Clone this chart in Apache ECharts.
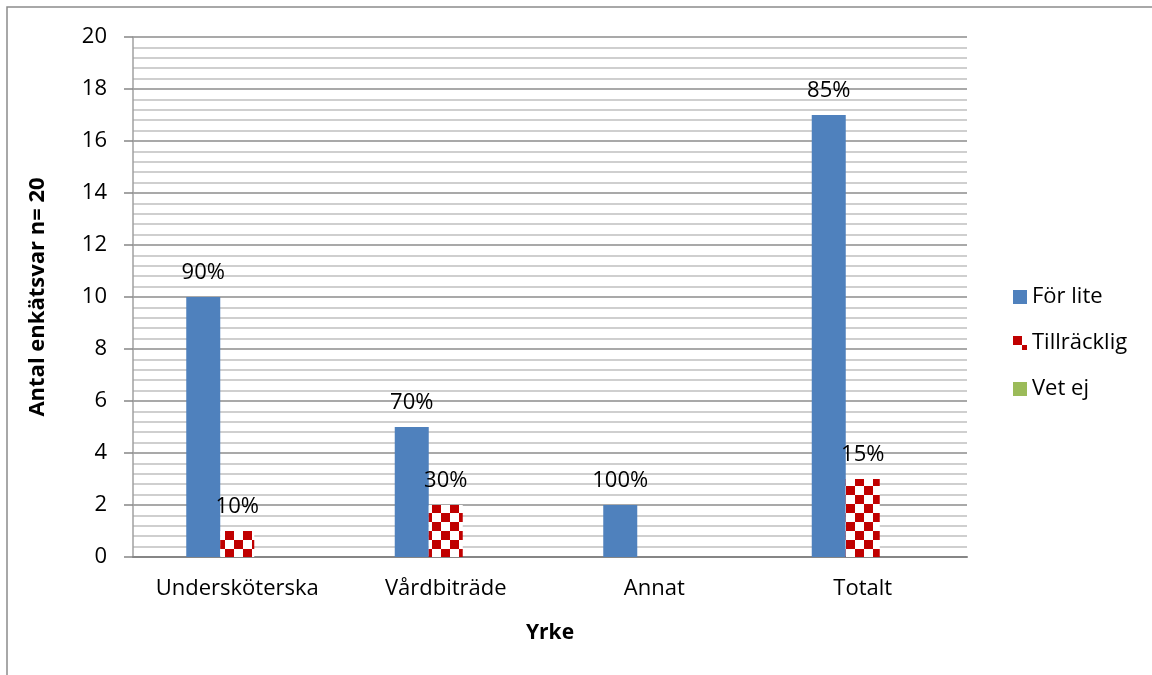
<!DOCTYPE html>
<html>
<head>
<meta charset="utf-8">
<script src="https://cdn.jsdelivr.net/npm/echarts@6/dist/echarts.min.js"></script>
<style>
  html, body { margin: 0; padding: 0; background: #fff; }
  #chart { width: 1152px; height: 675px; }
</style>
</head>
<body>
<div id="chart"></div>
<script>
// data
const categories = ['Undersköterska', 'Vårdbiträde', 'Annat', 'Totalt']
const forLite = [10, 5, 2, 17]
const tillracklig = [1, 2, 0, 3]
const vetEj = [0, 0, 0, 0]
const forLiteLabels = ['90%', '70%', '100%', '85%']
const tillrackligLabels = ['10%', '30%', '', '15%']

const FONT = '"Open Sans", Lato, sans-serif'

// red / white checkerboard fill
const makeChecker = () => {
  const cell = 9
  const c = document.createElement('canvas')
  c.width = cell * 2
  c.height = cell * 2
  const ctx = c.getContext('2d')
  ctx.fillStyle = '#ffffff'
  ctx.fillRect(0, 0, c.width, c.height)
  ctx.fillStyle = '#C00000'
  ctx.fillRect(0, 0, cell, cell)
  ctx.fillRect(cell, cell, cell, cell)
  return c
}
const checker = { image: makeChecker(), repeat: 'repeat' }

const myChart = echarts.init(document.getElementById('chart'))

const option = {
  animation: false,
  textStyle: { fontFamily: FONT },
  graphic: [
    {
      type: 'rect',
      shape: { x: 7, y: 7, width: 1170, height: 700 },
      style: { fill: 'none', stroke: '#8c8c8c', lineWidth: 1.5 },
    },
  ],
  grid: {
    left: 133,
    right: 185,
    top: 37,
    bottom: 118,
  },
  legend: {
    orient: 'vertical',
    left: 1008,
    top: 281,
    itemWidth: 14,
    itemHeight: 14,
    itemGap: 24,
    icon: 'rect',
    textStyle: { fontSize: 22, color: '#000', fontFamily: FONT },
    data: ['För lite', 'Tillräcklig', 'Vet ej'],
  },
  xAxis: {
    type: 'category',
    data: categories,
    name: 'Yrke',
    nameLocation: 'middle',
    nameGap: 66,
    nameTextStyle: { fontSize: 21, fontWeight: 'bold', color: '#000' },
    axisLine: { lineStyle: { color: '#868686', width: 2 } },
    axisTick: { show: false },
    axisLabel: { fontSize: 22, color: '#000', margin: 21, interval: 0 },
  },
  yAxis: {
    type: 'value',
    min: 0,
    max: 20,
    interval: 2,
    name: 'Antal enkätsvar n= 20',
    nameLocation: 'middle',
    nameGap: 84,
    nameTextStyle: { fontSize: 22, fontWeight: 'bold', color: '#000' },
    axisLine: { show: true, lineStyle: { color: '#a0a0a0', width: 1.5 } },
    axisTick: { show: true, length: 9, lineStyle: { color: '#868686', width: 1.5 } },
    axisLabel: { fontSize: 22, color: '#000', margin: 26 },
    splitLine: { lineStyle: { color: '#8c8c8c', width: 1.5 } },
    minorTick: { show: false, splitNumber: 5 },
    minorSplitLine: { show: true, lineStyle: { color: '#c0c0c0', width: 1.5 } },
  },
  series: [
    {
      name: 'För lite',
      type: 'bar',
      data: forLite,
      barWidth: 34,
      barGap: '0%',
      itemStyle: { color: '#4F81BD' },
      label: {
        show: true,
        position: 'top',
        distance: 13,
        fontSize: 22,
        color: '#000',
        formatter: (p) => forLiteLabels[p.dataIndex],
      },
    },
    {
      name: 'Tillräcklig',
      type: 'bar',
      data: tillracklig,
      barWidth: 34,
      barGap: '0%',
      itemStyle: { color: checker },
      label: {
        show: true,
        position: 'top',
        distance: 13,
        fontSize: 22,
        color: '#000',
        formatter: (p) => tillrackligLabels[p.dataIndex],
      },
    },
    {
      name: 'Vet ej',
      type: 'bar',
      data: vetEj,
      barWidth: 34,
      barGap: '0%',
      itemStyle: { color: '#9BBB59' },
    },
  ],
}

myChart.setOption(option)
</script>
</body>
</html>
